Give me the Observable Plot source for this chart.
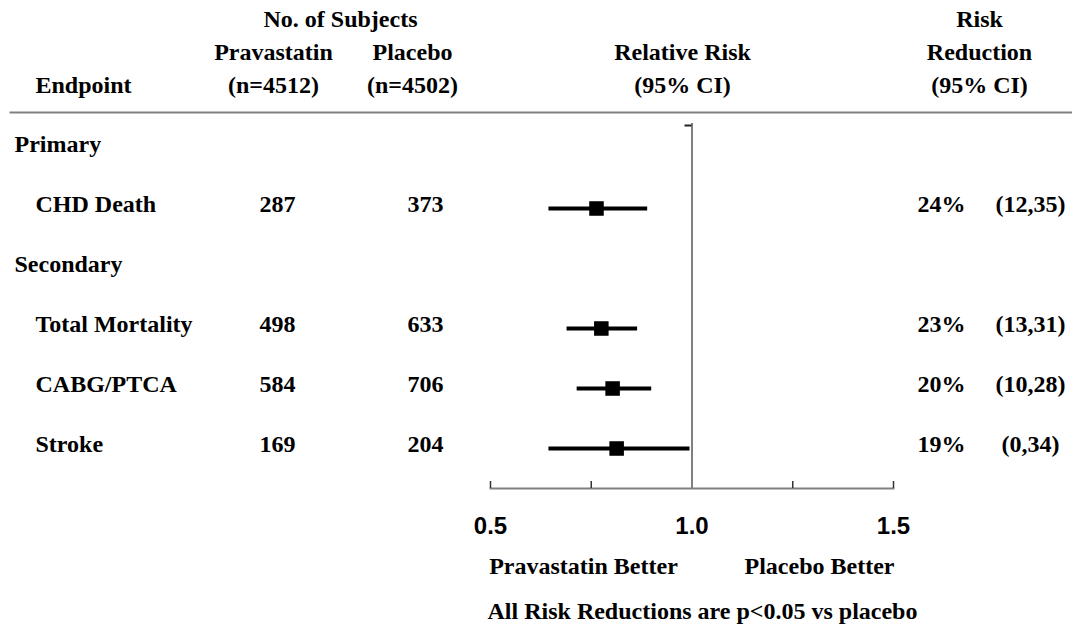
<!DOCTYPE html>
<html><head><meta charset="utf-8">
<script src="https://cdn.jsdelivr.net/npm/d3@7"></script>
<script src="https://cdn.jsdelivr.net/npm/@observablehq/plot@0.6"></script>
<style>body{margin:0;background:#fff}</style>
</head><body><div id="chart"></div>
<script>
// ---- data ----
const groups = ["Primary", "Secondary"];
const endpoints = ["CHD Death", "Total Mortality", "CABG/PTCA", "Stroke"];
const pravastatinN = [287, 498, 584, 169];
const placeboN = [373, 633, 706, 204];
const relRisk = [0.763, 0.775, 0.803, 0.813];
const ciLow = [0.645, 0.69, 0.715, 0.645];
const ciHigh = [0.89, 0.865, 0.90, 0.995];
const riskReduction = ["24%", "23%", "20%", "19%"];
const riskReductionCI = ["(12,35)", "(13,31)", "(10,28)", "(0,34)"];
const rowOrder = ["Primary", "CHD Death", "Secondary", "Total Mortality", "CABG/PTCA", "Stroke"];
const xTicks = [0.5, 0.75, 1.0, 1.25, 1.5];
const xTickLabels = [0.5, 1.0, 1.5];
const refValue = 1.0;

const rows = endpoints.map((name, i) => ({
  name, prava: pravastatinN[i], placebo: placeboN[i],
  rr: relRisk[i], lo: ciLow[i], hi: ciHigh[i],
  red: riskReduction[i], redCI: riskReductionCI[i]
}));

const serif = "'Liberation Serif','Times New Roman',serif";
const T = {fontSize: 24, fontWeight: "bold", fontFamily: serif, fill: "black"};
const hdr = {...T, frameAnchor: "top-left", lineAnchor: "bottom", lineHeight: 1.367, text: d => d};
const rowT = {...T, y: d => d, text: d => d, textAnchor: "start", frameAnchor: "left"};

const chart = Plot.plot({
  width: 1072,
  height: 629,
  marginTop: 112,
  marginBottom: 141,
  marginLeft: 490,
  marginRight: 179,
  x: {domain: [0.5, 1.5], label: null},
  y: {type: "point", domain: rowOrder, padding: 0, insetTop: 30, insetBottom: 43, axis: null},
  style: {fontFamily: serif, background: "white", overflow: "visible"},
  marks: [
    // header separator and axis line
    Plot.frame({anchor: "top", stroke: "#808080", strokeWidth: 2, insetLeft: -480, insetRight: -179}),
    Plot.frame({anchor: "bottom", stroke: "#808080", strokeWidth: 2}),
    // axis ticks (pointing up)
    Plot.ruleX(xTicks, {stroke: "#333", strokeWidth: 1.5, insetTop: 369}),
    // reference line at 1.0
    Plot.ruleX([refValue], {stroke: "#808080", strokeWidth: 2, insetTop: 11}),
    Plot.ruleY([rowOrder[0]], {x1: refValue, x2: refValue, insetLeft: -7, dy: -19, stroke: "#222", strokeWidth: 2}),
    // confidence intervals and estimates
    Plot.ruleY(rows, {y: "name", x1: "lo", x2: "hi", stroke: "black", strokeWidth: 4, dy: 4}),
    Plot.dot(rows, {x: "rr", y: "name", symbol: "square", r: 8.2, fill: "black", stroke: null, dy: 4}),
    // axis labels
    Plot.axisX(xTickLabels, {tickSize: 0, tickPadding: 28, tickFormat: d3.format(".1f"), fontSize: 24, fontWeight: "bold", fontFamily: "'Liberation Sans',Arial,sans-serif", label: null, fill: "black"}),
    // headers
    Plot.text(["Endpoint"], {...hdr, textAnchor: "start", dx: -455, dy: -20}),
    Plot.text(["No. of Subjects"], {...hdr, textAnchor: "middle", dx: -150, dy: -86}),
    Plot.text(["Pravastatin\n(n=4512)"], {...hdr, textAnchor: "middle", dx: -217, dy: -20}),
    Plot.text(["Placebo\n(n=4502)"], {...hdr, textAnchor: "middle", dx: -78, dy: -20}),
    Plot.text(["Relative Risk\n(95% CI)"], {...hdr, textAnchor: "middle", dx: 192, dy: -20}),
    Plot.text(["Risk\nReduction\n(95% CI)"], {...hdr, textAnchor: "middle", dx: 489, dy: -20}),
    // row labels
    Plot.text(groups, {...rowT, dx: -476}),
    Plot.text(endpoints, {...rowT, dx: -455}),
    Plot.text(rows, {...T, y: "name", text: "prava", frameAnchor: "left", textAnchor: "middle", dx: -213}),
    Plot.text(rows, {...T, y: "name", text: "placebo", frameAnchor: "left", textAnchor: "middle", dx: -65}),
    Plot.text(rows, {...T, y: "name", text: "red", frameAnchor: "right", textAnchor: "middle", dx: 48}),
    Plot.text(rows, {...T, y: "name", text: "redCI", frameAnchor: "right", textAnchor: "middle", dx: 137}),
    // bottom annotations
    Plot.text(["Pravastatin Better"], {...T, text: d => d, frameAnchor: "bottom-left", textAnchor: "middle", dx: 93, dy: 85}),
    Plot.text(["Placebo Better"], {...T, text: d => d, frameAnchor: "bottom-left", textAnchor: "middle", dx: 329, dy: 85}),
    Plot.text(["All Risk Reductions are p<0.05 vs placebo"], {...T, text: d => d, frameAnchor: "bottom-left", textAnchor: "middle", dx: 212, dy: 130})
  ]
});
document.getElementById("chart").append(chart);
</script>
</body></html>
